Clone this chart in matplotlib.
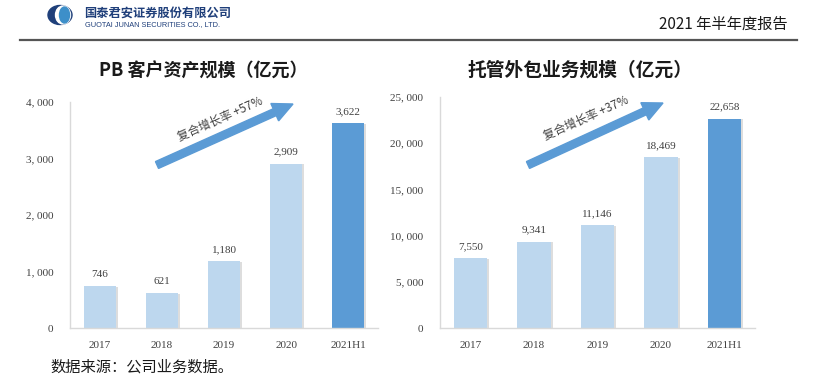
import matplotlib
matplotlib.use("Agg")
import matplotlib.pyplot as plt
from matplotlib.patches import FancyArrow, Ellipse
import matplotlib.patheffects as pe

plt.rcParams['font.family'] = ['Noto Sans CJK SC', 'DejaVu Sans']

# data
years = ['2017', '2018', '2019', '2020', '2021H1']
pb_assets = [746, 621, 1180, 2909, 3622]
custody = [7550, 9341, 11146, 18469, 22658]
pb_ticks = [0, 1000, 2000, 3000, 4000]
pb_tick_labels = ['0', '1, 000', '2, 000', '3, 000', '4, 000']
cu_ticks = [0, 5000, 10000, 15000, 20000, 25000]
cu_tick_labels = ['0', '5, 000', '10, 000', '15, 000', '20, 000', '25, 000']

W, H = 830, 382
fig = plt.figure(figsize=(W / 100, H / 100), dpi=100)

light = '#BDD7EE'
dark = '#5B9BD5'
num_font = 'Liberation Serif'


def px_axes(x0, y_top, x1, y_bot):
    return fig.add_axes([x0 / W, 1 - y_bot / H, (x1 - x0) / W, (y_bot - y_top) / H])


def draw_bars(ax, vals, ticks, tick_labels, ymax):
    colors = [light] * (len(vals) - 1) + [dark]
    bars = ax.bar(range(len(vals)), vals, width=0.52, color=colors, zorder=2)
    for b in bars:
        b.set_path_effects([pe.SimplePatchShadow(offset=(1.5, -0.5), shadow_rgbFace='#909090', alpha=0.3),
                            pe.Normal()])
    for i, v in enumerate(vals):
        ax.annotate(f'{v:,}', (i, v), xytext=(0, 5), textcoords='offset points',
                    ha='center', va='bottom', fontsize=8, color='#404040', family=num_font)
    ax.set_xlim(-0.48, len(vals) - 0.52)
    ax.set_ylim(0, ymax)
    ax.set_yticks(ticks)
    ax.set_yticklabels(tick_labels, family=num_font, fontsize=8, color='#404040')
    ax.set_xticks(range(len(vals)))
    ax.set_xticklabels(years, family=num_font, fontsize=8, color='#404040')
    ax.tick_params(length=0, pad=9)
    ax.tick_params(axis='y', pad=12)
    for s in ['top', 'right']:
        ax.spines[s].set_visible(False)
    for s in ['left', 'bottom']:
        ax.spines[s].set_color('#d9d9d9')
        ax.spines[s].set_linewidth(1)


ax1 = px_axes(70, 102, 378, 328)
draw_bars(ax1, pb_assets, pb_ticks, pb_tick_labels, 4000)
ax2 = px_axes(440, 97, 755, 328)
draw_bars(ax2, custody, cu_ticks, cu_tick_labels, 25000)

# titles
fig.text(203 / W, 1 - 71 / H, 'PB 客户资产规模（亿元）', ha='center', va='center',
         fontsize=13, fontweight='bold', color='#1a1a1a')
fig.text(580 / W, 1 - 70 / H, '托管外包业务规模（亿元）', ha='center', va='center',
         fontsize=13.5, fontweight='bold', color='#1a1a1a')

# growth arrows
def growth_arrow(x0, y0, x1, y1, label, tx, ty):
    xi, yi = x0 / 100, (H - y0) / 100
    dx, dy = (x1 - x0) / 100, -(y1 - y0) / 100
    arr = FancyArrow(xi, yi, dx, dy, width=0.075, head_width=0.19, head_length=0.2,
                     length_includes_head=True, color=dark, transform=fig.dpi_scale_trans)
    fig.patches.append(arr)
    fig.text(tx / W, 1 - ty / H, label, rotation=24, ha='center', va='center',
             fontsize=8.5, color='#404040', rotation_mode='anchor')

growth_arrow(157, 165, 293, 104, '复合增长率 +57%', 220, 119)
growth_arrow(528, 165, 663, 103, '复合增长率 +37%', 586, 118)

# header
fig.patches.append(Ellipse((60 / 100, (H - 15) / 100), 0.24, 0.19, color='#1F3F7A',
                           transform=fig.dpi_scale_trans))
fig.patches.append(Ellipse((63 / 100, (H - 15) / 100), 0.15, 0.18, color='white',
                           transform=fig.dpi_scale_trans))
fig.patches.append(Ellipse((64.5 / 100, (H - 15) / 100), 0.1, 0.16, color='#3D8FC9',
                           transform=fig.dpi_scale_trans))
fig.text(84 / W, 1 - 13 / H, '国泰君安证券股份有限公司', ha='left', va='center',
         fontsize=8.8, fontweight='bold', color='#1F3F7A')
fig.text(85 / W, 1 - 25 / H, 'GUOTAI JUNAN SECURITIES CO., LTD.', ha='left', va='center',
         fontsize=5.3, color='#1F3F7A', family='Liberation Sans')
fig.text(788 / W, 1 - 24 / H, '2021 年半年度报告', ha='right', va='center',
         fontsize=11, color='#1a1a1a')
fig.add_artist(plt.Line2D([20 / W, 797 / W], [1 - 40 / H, 1 - 40 / H], color='#555555', lw=1.6))

# footer
fig.text(50 / W, 1 - 367 / H, '数据来源：公司业务数据。', ha='left', va='center',
         fontsize=11, color='#1a1a1a')

fig.savefig('out.png', dpi=100, facecolor='white')
